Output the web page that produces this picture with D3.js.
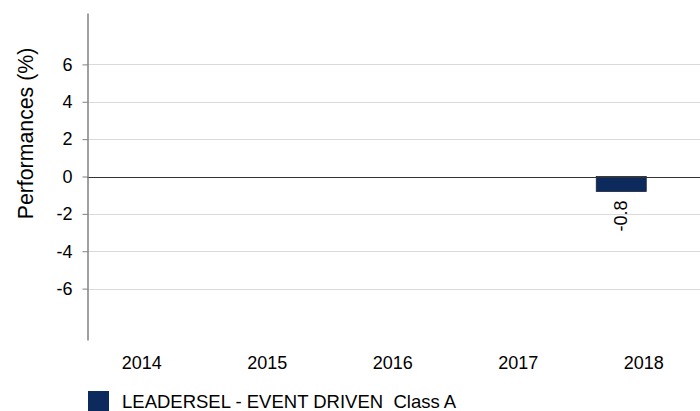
<!DOCTYPE html>
<html>
<head>
<meta charset="utf-8">
<script src="https://cdn.jsdelivr.net/npm/d3@7"></script>
<style>
  html, body { margin: 0; padding: 0; background: #fff; }
  svg { display: block; font-family: Arial, "Liberation Sans", sans-serif; }
</style>
</head>
<body>
<svg id="chart" width="700" height="411"></svg>
<script>
const categories = ["2014", "2015", "2016", "2017", "2018"];
const seriesNames = ["LEADERSEL - EVENT DRIVEN  Class A", "_hidden"];
const seriesValues = [null, null, null, null, -0.8];
const yTicks = [-6, -4, -2, 0, 2, 4, 6];
const yTitle = "Performances (%)";

(function () {
const svg = d3.select("#chart");
const W = 700, H = 411;
const axisX = 87, plotTop = 13, plotBottom = 340;

const y = d3.scaleLinear().domain([-8.75, 8.75]).range([plotBottom, plotTop]);
const x = d3.scaleBand().domain(categories).range([79, 706.5]).padding(0);
const inner = d3.scaleBand().domain(seriesNames)
  .range([x.bandwidth() / 2 - 47.5, x.bandwidth() / 2 + 52.5]).padding(0);

// gridlines
svg.append("g").selectAll("line")
  .data(yTicks.filter(d => d !== 0))
  .join("line")
  .attr("x1", axisX).attr("x2", W)
  .attr("y1", d => Math.round(y(d)) + 0.5).attr("y2", d => Math.round(y(d)) + 0.5)
  .attr("stroke", "#d9d9d9").attr("stroke-width", 1);

// bars
const data = categories.map((c, i) => ({ cat: c, v: seriesValues[i] })).filter(d => d.v != null);
svg.append("g").selectAll("rect")
  .data(data)
  .join("rect")
  .attr("x", d => x(d.cat) + inner(seriesNames[0]))
  .attr("width", inner.bandwidth())
  .attr("y", d => y(Math.max(0, d.v)))
  .attr("height", d => Math.abs(y(d.v) - y(0)))
  .attr("fill", "#0c2a5c")
  .attr("stroke", "#1c2433").attr("stroke-width", 0.8);

// zero line
svg.append("line")
  .attr("x1", axisX).attr("x2", W)
  .attr("y1", Math.round(y(0)) + 0.5).attr("y2", Math.round(y(0)) + 0.5)
  .attr("stroke", "#333").attr("stroke-width", 1.2);

// value labels
svg.append("g").selectAll("text")
  .data(data)
  .join("text")
  .attr("transform", d => {
    const cx = x(d.cat) + inner(seriesNames[0]) + inner.bandwidth() / 2 + 6;
    const yy = y(Math.min(0, d.v)) + 9;
    return `translate(${cx},${yy}) rotate(-90)`;
  })
  .attr("text-anchor", "end")
  .attr("font-size", 18)
  .attr("fill", "#000")
  .text(d => d.v.toFixed(1));

// y axis
const yAxis = d3.axisLeft(y).tickValues(yTicks).tickSize(5).tickSizeOuter(0).tickPadding(10)
  .tickFormat(d => String(d));
const gy = svg.append("g").attr("transform", `translate(${axisX + 0.5},0)`).call(yAxis);
gy.select(".domain").attr("stroke", "#808080").attr("stroke-width", 1.5);
gy.selectAll(".tick line").attr("stroke", "#808080");
gy.selectAll(".tick text").attr("font-size", 18).attr("fill", "#000")
  .attr("font-family", "Arial, 'Liberation Sans', sans-serif");

// x labels
svg.append("g").selectAll("text")
  .data(categories)
  .join("text")
  .attr("x", d => x(d) + x.bandwidth() / 2)
  .attr("y", 369)
  .attr("text-anchor", "middle")
  .attr("font-size", 18)
  .attr("fill", "#000")
  .text(d => d);

// y title
svg.append("text")
  .attr("transform", "translate(32.5,133.5) rotate(-90)")
  .attr("text-anchor", "middle")
  .attr("font-size", 21.3)
  .attr("fill", "#000")
  .text(yTitle);

// legend
const lg = svg.append("g");
lg.append("rect").attr("x", 88).attr("y", 391).attr("width", 21).attr("height", 21).attr("fill", "#0c2a5c");
lg.append("text").attr("x", 122).attr("y", 408).attr("font-size", 18.5).attr("fill", "#000")
  .attr("xml:space", "preserve").style("white-space", "pre")
  .text(seriesNames[0]);
})();
</script>
</body>
</html>
